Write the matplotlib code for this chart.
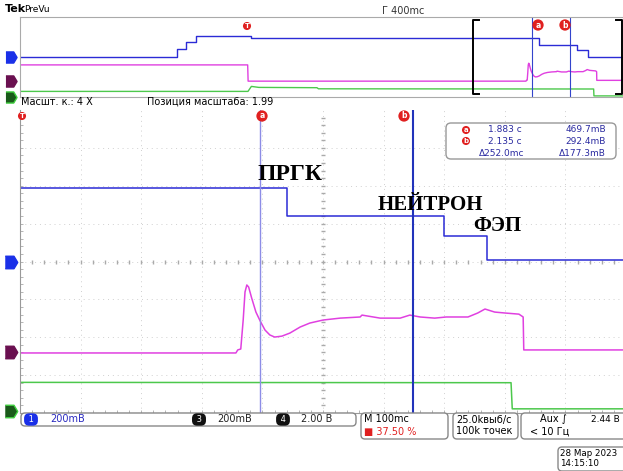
import numpy as np
import matplotlib
matplotlib.use("Agg")
import matplotlib.pyplot as plt
from matplotlib.patches import FancyBboxPatch

plt.rcParams["font.family"] = ["DejaVu Sans"]

# ---- data (time in s, values in V) ----
# channel 1 (blue), 200 mV/div, step levels (steps-post)
ch1_t = [-1.553, -0.497, -0.437, -0.371, 0.0, 1.928, 2.187, 2.258, 2.50]
ch1_v = [0.0, 0.154, 0.306, 0.42, 0.388, 0.240, 0.135, 0.008, 0.008]

# channel 3 (magenta), 200 mV/div
ch3_t = [-1.553, -0.025, -0.022, 1.487, 1.843, 1.846, 1.851, 1.855, 1.858, 1.861,
         1.864, 1.869, 1.876, 1.883, 1.891, 1.899, 1.907, 1.919, 1.932, 1.949,
         1.965, 1.987, 2.015, 2.048, 2.051, 2.081, 2.114, 2.130, 2.147, 2.171,
         2.190, 2.226, 2.242, 2.254, 2.270, 2.287, 2.310, 2.317, 2.318, 2.50]
ch3_v = [0.32, 0.32, -0.005, -0.005, -0.005, 0.011, 0.016, 0.169, 0.317, 0.354,
         0.343, 0.285, 0.211, 0.164, 0.116, 0.090, 0.079, 0.084, 0.100, 0.132,
         0.153, 0.169, 0.179, 0.185, 0.195, 0.179, 0.179, 0.195, 0.185, 0.179,
         0.185, 0.185, 0.206, 0.227, 0.211, 0.206, 0.200, 0.185, 0.011, 0.011]

# channel 4 (green), 2 V/div
ch4_t = [-1.553, -0.023, 0.0, 0.05, 0.44, 0.45, 2.297, 2.299, 2.50]
ch4_v = [1.0, 1.0, 2.0, 1.8, 1.74, 1.52, 1.48, 0.1, 0.1]

scales = {"1": 0.2, "3": 0.2, "4": 2.0}
offsets = {"1": 0.0, "3": -2.39, "4": -3.94}
colors = {"1": "#2b2bd6", "3": "#e040e0", "4": "#4cc84c"}
tag_colors = {"1": "#1a30e8", "3": "#6a1050", "4": "#1a5a1a"}

cur_a, cur_b = 1.883, 2.135
main_x0 = 1.4867
over_x0 = -1.553

W, H = 623, 471
fig = plt.figure(figsize=(W / 100, H / 100), dpi=100)


def box(x0, y0, x1, y1):
    return [x0 / W, 1 - y1 / H, (x1 - x0) / W, (y1 - y0) / H]


def divs(ch, v):
    return offsets[ch] + np.array(v) / scales[ch]


series = [("1", ch1_t, ch1_v, "steps-post"),
          ("3", ch3_t, ch3_v, "default"),
          ("4", ch4_t, ch4_v, "default")]
tag = [(-1, -1), (0.4, -1), (1, 0), (0.4, 1), (-1, 1)]

# ---- overview (PreVu) ----
ov = fig.add_axes(box(20, 17, 623, 97))
ov.set_xlim(over_x0, over_x0 + 603 / 149)
ov.set_ylim(-4, 4)
for ch, t, v, ds in series:
    ov.plot(t, divs(ch, v), color=colors[ch], lw=1, drawstyle=ds)
for c in (cur_a, cur_b):
    ov.axvline(c, color="#3344cc", lw=0.8)
# zoom bracket
for xb, d in ((main_x0, 0.04), (main_x0 + 1.0, -0.04)):
    ov.plot([xb + d, xb, xb, xb + d], [3.7, 3.7, -3.7, -3.7], color="black", lw=1.4,
            clip_on=False)
ov.spines["right"].set_visible(False)
for s in ("top", "bottom", "left"):
    ov.spines[s].set_color("#aaaaaa")
ov.set_xticks([])
ov.set_yticks([])
for ch in ("1", "3", "4"):
    ov.plot(-0.015, offsets[ch] if ch != "4" else -3.95, marker=tag,
            ms=8, color=tag_colors[ch], mec="#40d040" if ch == "4" else tag_colors[ch],
            transform=ov.get_yaxis_transform(), clip_on=False)

# ---- main window ----
ax = fig.add_axes(box(20, 110, 626, 413))
ax.set_xlim(main_x0, main_x0 + 1.0)
ax.set_ylim(-4, 4)
for k in range(1, 10):
    ax.axvline(main_x0 + k * 0.1, color="#d0d0d0", lw=0.7, ls=(0, (1, 4)), zorder=0)
for k in range(-3, 4):
    ax.axhline(k, color="#d0d0d0", lw=0.7, ls=(0, (1, 4)), zorder=0)
xm = main_x0 + np.arange(1, 50) * 0.02
ym = np.arange(-19, 20) * 0.2
ax.plot(xm, np.zeros_like(xm), ls="none", marker="|", ms=3, color="#aaaaaa", zorder=0)
ax.plot(np.full_like(ym, main_x0 + 0.5), ym, ls="none", marker="_", ms=3, color="#aaaaaa", zorder=0)

for ch, t, v, ds in series:
    ax.plot(t, divs(ch, v), color=colors[ch], lw=1.1, drawstyle=ds)
ax.axvline(cur_a, color="#8c8ce6", lw=1)
ax.axvline(cur_b, color="#2233bb", lw=1.5)

ax.set_xticks(xm, minor=True)
ax.set_yticks(ym, minor=True)
ax.set_xticks([])
ax.set_yticks([])
ax.tick_params(which="minor", direction="in", length=2.5, color="#aaaaaa")
for s in ("top", "right"):
    ax.spines[s].set_visible(False)
for s in ("left", "bottom"):
    ax.spines[s].set_color("#999999")
for ch in ("1", "3", "4"):
    ax.plot(-0.015, offsets[ch], marker=tag,
            ms=9, color=tag_colors[ch], mec="#40d040" if ch == "4" else tag_colors[ch],
            transform=ax.get_yaxis_transform(), clip_on=False)

# ---- overlay: labels, readouts, status bar ----
lay = fig.add_axes([0, 0, 1, 1])
lay.set_xlim(0, W)
lay.set_ylim(H, 0)
lay.axis("off")

fs = 7
lay.text(5, 9, "Tek", fontsize=8, fontweight="bold", va="center")
lay.text(24, 9, "PreVu", fontsize=6.5, va="center")
lay.text(382, 11, "Г 400mс", fontsize=7, va="center", color="#333333")
lay.text(21, 102, "Масшт. к.: 4 X", fontsize=fs, va="center")
lay.text(147, 102, "Позиция масштаба: 1.99", fontsize=fs, va="center")


def badge(x, y, s, fc="#e02020", size=5.5):
    lay.text(x, y, s, fontsize=size, color="white", ha="center", va="center", fontweight="bold",
             bbox=dict(boxstyle="circle,pad=0.15", fc=fc, ec="none"))


badge(247, 26, "T", size=5)
badge(22, 116, "T", size=5)
badge(538, 25, "a")
badge(565, 25, "b")
badge(262, 116, "a")
badge(404, 116, "b")

# cursor readout box
lay.add_patch(FancyBboxPatch((446, 123), 170, 36, boxstyle="round,pad=0,rounding_size=5",
                             fc="white", ec="#999999", lw=1))
badge(466, 130, "a", size=5)
badge(466, 141, "b", size=5)
rc = "#2a2aa0"
lay.text(488, 130, "1.883 с", fontsize=6.5, color=rc, va="center")
lay.text(488, 141, "2.135 с", fontsize=6.5, color=rc, va="center")
lay.text(479, 153, "Δ252.0mс", fontsize=6.5, color=rc, va="center")
lay.text(606, 130, "469.7mВ", fontsize=6.5, color=rc, va="center", ha="right")
lay.text(606, 141, "292.4mВ", fontsize=6.5, color=rc, va="center", ha="right")
lay.text(606, 153, "Δ177.3mВ", fontsize=6.5, color=rc, va="center", ha="right")

serif = ["Liberation Serif", "DejaVu Serif"]
lay.text(290, 175, "ПРГК", fontsize=17, fontweight="bold", family=serif, ha="center", va="center")
lay.text(430, 205, "НЕЙТРОН", fontsize=15, fontweight="bold", family=serif, ha="center", va="center")
lay.text(497, 226, "ФЭП", fontsize=15, fontweight="bold", family=serif, ha="center", va="center")


# status bar
def rbox(x0, y0, x1, y1):
    lay.add_patch(FancyBboxPatch((x0, y0), x1 - x0, y1 - y0, boxstyle="round,pad=0,rounding_size=4",
                                 fc="white", ec="#888888", lw=1))


rbox(21, 413, 356, 426)
rbox(361, 413, 448, 439)
rbox(453, 413, 518, 439)
rbox(521, 413, 630, 439)
rbox(558, 447, 630, 471)


def pill(x, y, s, fc):
    lay.text(x, y, s, fontsize=6, color="white", ha="center", va="center",
             bbox=dict(boxstyle="round,pad=0.2,rounding_size=0.6", fc=fc, ec="none"))


pill(31, 419.5, " 1 ", "#1a30e8")
pill(199, 419.5, " 3 ", "#111111")
pill(283, 419.5, " 4 ", "#111111")
lay.text(50, 419.5, "200mВ", fontsize=fs, color="#2a2ac0", va="center")
lay.text(217, 419.5, "200mВ", fontsize=fs, color="#222222", va="center")
lay.text(301, 419.5, "2.00 В", fontsize=fs, color="#222222", va="center")
lay.text(364, 419.5, "M 100mс", fontsize=fs, va="center")
lay.text(364, 431.5, "■ 37.50 %", fontsize=fs, color="#e02020", va="center")
lay.text(456, 419.5, "25.0kвыб/с", fontsize=fs, va="center")
lay.text(456, 431.5, "100k точек", fontsize=fs, va="center")
lay.text(540, 419.5, "Aux ∫", fontsize=fs, va="center")
lay.text(620, 419.5, "2.44 В", fontsize=6.5, va="center", ha="right")
lay.text(530, 431.5, "< 10 Гц", fontsize=fs, va="center")
lay.text(560, 453, "28 Мар 2023", fontsize=6.3, va="center")
lay.text(560, 464, "14:15:10", fontsize=6.3, va="center")

fig.savefig("out.png", dpi=100)
